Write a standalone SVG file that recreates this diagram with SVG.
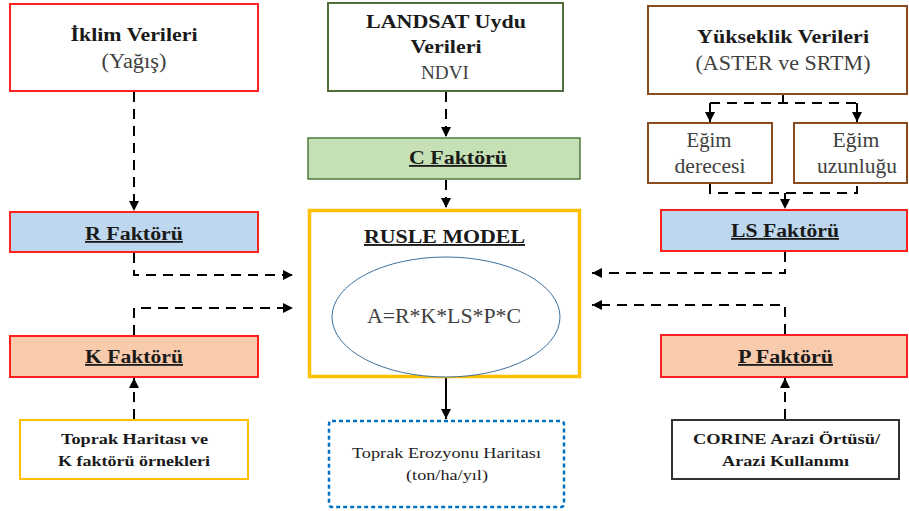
<svg xmlns="http://www.w3.org/2000/svg" width="909" height="511" viewBox="0 0 909 511" font-family="'Liberation Serif', 'Times New Roman', serif">
<defs>
<marker id="ah" viewBox="0 0 10 10" refX="10" refY="5" markerWidth="10" markerHeight="10" markerUnits="userSpaceOnUse" orient="auto">
<path d="M0,0 L10,5 L0,10 Z" fill="#000"/>
</marker>
<style>
.b{font-family:"Liberation Serif","Times New Roman",serif;font-weight:bold;fill:#1a1a1a;text-anchor:middle}
.r{font-family:"Liberation Serif","Times New Roman",serif;fill:#404040;text-anchor:middle}
.u{text-decoration:underline}
.c{fill:none;stroke:#000;stroke-width:2;stroke-dasharray:10 7}
.s{fill:none;stroke:#000;stroke-width:2}
.red{fill:#fff;stroke:#ff2020;stroke-width:2}
.brn{fill:#fff;stroke:#8a4b1e;stroke-width:2}
</style>
</defs>
<rect width="909" height="511" fill="#fff"/>
<g id="connectors">
<path class="c" d="M134,92 V211" marker-end="url(#ah)"/>
<path class="c" d="M446,92 V137" marker-end="url(#ah)"/>
<path class="c" d="M446,180 V208" marker-end="url(#ah)"/>
<path class="c" d="M783,95 V103 M710,103 H857"/>
<path class="c" d="M710,103 V122" marker-end="url(#ah)"/>
<path class="c" d="M857,103 V122" marker-end="url(#ah)"/>
<path class="c" d="M710,184 V193 H857 V184"/>
<path class="c" d="M785,193 V209" marker-end="url(#ah)"/>
<path class="c" d="M134,253 V275 H293" marker-end="url(#ah)"/>
<path class="c" d="M134,335 V308 H293" marker-end="url(#ah)"/>
<path class="c" d="M785,252 V273 H592" marker-end="url(#ah)"/>
<path class="c" d="M785,334 V305 H592" marker-end="url(#ah)"/>
<path class="c" d="M134,419 V378" marker-end="url(#ah)"/>
<path class="c" d="M785,419 V378" marker-end="url(#ah)"/>
<path class="s" d="M446,378 V419" marker-end="url(#ah)"/>
</g>
<g id="iklim">
<rect class="red" x="10" y="4" width="248" height="87"/>
<text class="b" x="134" y="41" font-size="19" textLength="127" lengthAdjust="spacingAndGlyphs">İklim Verileri</text>
<text class="r" x="134" y="68" font-size="20" textLength="65" lengthAdjust="spacingAndGlyphs">(Yağış)</text>
</g>
<g id="landsat">
<rect x="328" y="3" width="235" height="88" fill="#fff" stroke="#4f6e3a" stroke-width="2"/>
<text class="b" x="446" y="28" font-size="19" textLength="160" lengthAdjust="spacingAndGlyphs">LANDSAT Uydu</text>
<text class="b" x="446" y="53" font-size="19" textLength="71" lengthAdjust="spacingAndGlyphs">Verileri</text>
<text class="r" x="445" y="79" font-size="19" textLength="48" lengthAdjust="spacingAndGlyphs">NDVI</text>
</g>
<g id="yukseklik">
<rect class="brn" x="648" y="6" width="259" height="88"/>
<text class="b" x="783" y="43" font-size="19" textLength="172" lengthAdjust="spacingAndGlyphs">Yükseklik Verileri</text>
<text class="r" x="783" y="70" font-size="20" textLength="175" lengthAdjust="spacingAndGlyphs">(ASTER ve SRTM)</text>
</g>
<g id="egim-derecesi">
<rect class="brn" x="648" y="123" width="124" height="60"/>
<text class="r" x="709" y="147" font-size="20" textLength="45" lengthAdjust="spacingAndGlyphs">Eğim</text>
<text class="r" x="710" y="173" font-size="20" textLength="71" lengthAdjust="spacingAndGlyphs">derecesi</text>
</g>
<g id="egim-uzunlugu">
<rect class="brn" x="794" y="123" width="113" height="60"/>
<text class="r" x="856" y="147" font-size="20" textLength="47" lengthAdjust="spacingAndGlyphs">Eğim</text>
<text class="r" x="857" y="173" font-size="20" textLength="80" lengthAdjust="spacingAndGlyphs">uzunluğu</text>
</g>
<g id="c-faktoru">
<rect x="308" y="138" width="272" height="41" fill="#c5e0b4" stroke="#4f7a3a" stroke-width="1.5"/>
<text class="b u" x="458" y="164" font-size="18" textLength="98" lengthAdjust="spacingAndGlyphs">C Faktörü</text>
</g>
<g id="r-faktoru">
<rect x="10" y="212" width="248" height="40" fill="#bdd7ee" stroke="#ff2020" stroke-width="2"/>
<text class="b u" x="134" y="240" font-size="18" textLength="98" lengthAdjust="spacingAndGlyphs">R Faktörü</text>
</g>
<g id="ls-faktoru">
<rect x="661" y="210" width="246" height="41" fill="#bdd7ee" stroke="#ff2020" stroke-width="2"/>
<text class="b u" x="785" y="237" font-size="18" textLength="108" lengthAdjust="spacingAndGlyphs">LS Faktörü</text>
</g>
<g id="rusle">
<rect x="309.5" y="210.5" width="270" height="166" fill="#fff" stroke="#ffc000" stroke-width="3.5"/>
<text class="b u" x="444.5" y="243" font-size="19" textLength="161" lengthAdjust="spacingAndGlyphs">RUSLE MODEL</text>
<ellipse cx="446" cy="317" rx="114" ry="60" fill="#fff" stroke="#41719c" stroke-width="1"/>
<text class="r" x="444" y="323" font-size="20" textLength="154" lengthAdjust="spacingAndGlyphs">A=R*K*LS*P*C</text>
</g>
<g id="k-faktoru">
<rect x="10" y="336" width="248" height="41" fill="#f8cbad" stroke="#ff2020" stroke-width="2"/>
<text class="b u" x="134" y="363" font-size="18" textLength="98" lengthAdjust="spacingAndGlyphs">K Faktörü</text>
</g>
<g id="p-faktoru">
<rect x="661" y="335" width="246" height="42" fill="#f8cbad" stroke="#ff2020" stroke-width="2"/>
<text class="b u" x="785.5" y="363" font-size="18" textLength="95" lengthAdjust="spacingAndGlyphs">P Faktörü</text>
</g>
<g id="toprak-haritasi">
<rect x="20" y="420" width="228" height="59" fill="#fff" stroke="#ffc000" stroke-width="2"/>
<text class="b" x="134.5" y="444" font-size="15" textLength="147" lengthAdjust="spacingAndGlyphs">Toprak Haritası ve</text>
<text class="b" x="134" y="466" font-size="15" textLength="152" lengthAdjust="spacingAndGlyphs">K faktörü örnekleri</text>
</g>
<g id="toprak-erozyonu">
<rect x="329" y="421" width="235" height="86" rx="3" fill="#fff" stroke="#0070c0" stroke-width="2.5" stroke-dasharray="4 3"/>
<text class="r" x="446.5" y="458" font-size="15" textLength="189" lengthAdjust="spacingAndGlyphs" style="fill:#222">Toprak Erozyonu Haritası</text>
<text class="r" x="447" y="480" font-size="15" textLength="82" lengthAdjust="spacingAndGlyphs" style="fill:#222">(ton/ha/yıl)</text>
</g>
<g id="corine">
<rect x="672" y="420" width="227" height="59" fill="#fff" stroke="#333" stroke-width="2"/>
<text class="b" x="786.5" y="444" font-size="15" textLength="187" lengthAdjust="spacingAndGlyphs">CORINE Arazi Örtüsü/</text>
<text class="b" x="785.5" y="466" font-size="15" textLength="127" lengthAdjust="spacingAndGlyphs">Arazi Kullanımı</text>
</g>
</svg>
